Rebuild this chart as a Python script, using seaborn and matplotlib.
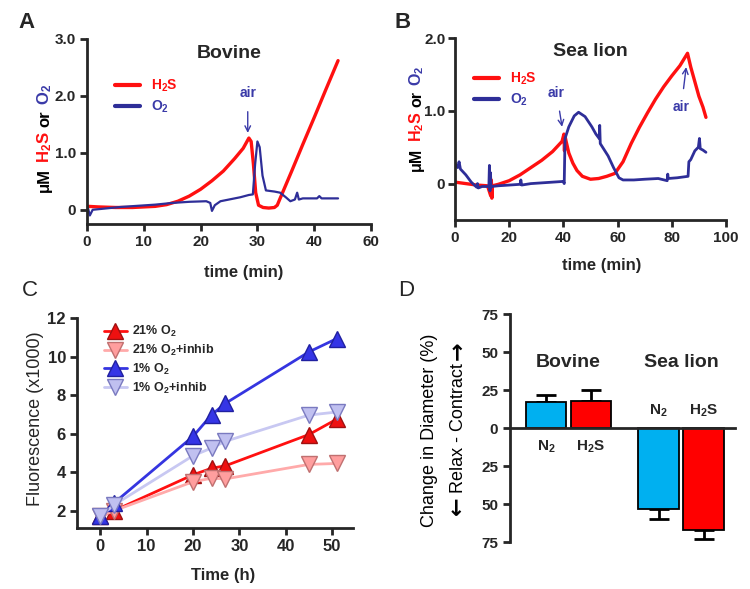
import numpy as np
import pandas as pd
import matplotlib
matplotlib.use("Agg")
import matplotlib.pyplot as plt
from matplotlib.transforms import IdentityTransform
import seaborn as sns

# ── Data ──────────────────────────────────────────────────────────────────────

# Panel A: Bovine, H2S and O2 traces (time in min, value in uM)
a_h2s_t = [0.2, 2, 5, 8, 10, 12, 14, 16, 18, 20, 22, 24, 26, 27.5, 28.5,
           28.9, 29.3, 29.7, 30.2, 31, 32, 33, 33.5, 34, 36, 38, 40, 42, 44.2]
a_h2s_v = [0.06, 0.05, 0.04, 0.04, 0.05, 0.06, 0.09, 0.15, 0.24, 0.36, 0.51, 0.68, 0.9, 1.08, 1.26,
           1.2, 0.8, 0.3, 0.08, 0.04, 0.03, 0.04, 0.08, 0.2, 0.67, 1.15, 1.62, 2.1, 2.62]

a_o2_t = [0.2, 0.5, 1, 3, 6, 9, 12, 15, 18, 21, 21.7, 22.0, 22.5, 23.5, 25, 27, 28.5, 29.2,
          29.6, 30.0, 30.4, 30.9, 31.5, 33, 34, 35, 35.8, 36.6, 37.0, 37.3, 38, 40.5, 40.9, 41.3, 44.2]
a_o2_v = [0.02, -0.1, 0.0, 0.02, 0.05, 0.07, 0.09, 0.12, 0.14, 0.15, 0.12, -0.02, 0.08, 0.15, 0.18, 0.22, 0.26, 0.27,
          0.8, 1.2, 1.1, 0.6, 0.34, 0.32, 0.3, 0.22, 0.15, 0.18, 0.3, 0.18, 0.2, 0.2, 0.24, 0.2, 0.2]

# Panel B: Sea lion
b_h2s_t = [0, 4, 8, 12, 13.2, 13.4, 13.6, 13.8, 16, 20, 24, 28, 32, 36, 39.5, 40.2, 40.4, 40.6,
           41, 42, 43.5, 45, 47, 50, 53, 56, 59, 62, 65, 68, 71, 74, 77, 80, 83, 85.8,
           87, 88.5, 90, 91.5, 92.6]
b_h2s_v = [0.02, 0.0, -0.02, -0.03, -0.17, 0.05, -0.2, -0.03, -0.01, 0.04, 0.12, 0.22, 0.32, 0.44, 0.58, 0.68, 0.45, 0.65,
           0.58, 0.42, 0.28, 0.18, 0.1, 0.06, 0.07, 0.1, 0.14, 0.3, 0.55, 0.77, 0.97, 1.16, 1.33, 1.48, 1.62, 1.79,
           1.6, 1.4, 1.2, 1.05, 0.91]

b_o2_t = [0, 1, 1.5, 2, 4, 6, 8, 8.3, 8.6, 10, 12.5, 12.7, 12.9, 13.1, 13.3, 13.5,
          16, 20, 24, 24.3, 24.6, 28, 32, 36, 40, 40.3, 40.6, 42, 44, 45.6, 48, 50.5,
          52, 53.2, 53.4, 53.6, 56.5, 58.5, 60.5, 62, 66, 70, 75, 78.3, 78.5, 78.7,
          82, 86, 86.3, 87, 88.5, 89.8, 90.2, 90.5, 91.5, 92.6]
b_o2_v = [0.28, 0.22, 0.3, 0.2, 0.12, 0.02, -0.05, 0.0, -0.06, -0.04, -0.04, 0.25, -0.1, 0.15, -0.05, -0.04,
          -0.03, -0.02, -0.01, 0.05, -0.02, 0.0, 0.01, 0.02, 0.03, 0.0, 0.62, 0.78, 0.93, 0.98, 0.92, 0.78,
          0.68, 0.62, 0.8, 0.55, 0.38, 0.22, 0.08, 0.05, 0.05, 0.06, 0.07, 0.04, 0.13, 0.07,
          0.08, 0.1, 0.3, 0.33, 0.45, 0.5, 0.62, 0.48, 0.46, 0.43]

# Panel C: fluorescence (x1000) vs time (h)
c_time = [0, 3, 20, 24, 27, 45, 51]
c_21 = [1.7, 2.0, 3.86, 4.2, 4.33, 5.95, 6.75]
c_21_inhib = [1.7, 2.0, 3.5, 3.68, 3.65, 4.4, 4.45]
c_1 = [1.7, 2.4, 5.85, 6.97, 7.57, 10.24, 10.93]
c_1_inhib = [1.7, 2.3, 4.85, 5.25, 5.6, 6.96, 7.12]

# Panel D: change in diameter (%)
d_species = ["Bovine", "Bovine", "Sea lion", "Sea lion"]
d_gas = ["N2", "H2S", "N2", "H2S"]
d_change = [17, 18, -53, -67]
d_err = [5, 7, 7, 6]

RED = "#ff1010"
NAVY = "#2e2e98"
NAVY_TXT = "#3a3aa8"

# ── Style ─────────────────────────────────────────────────────────────────────

sns.set_style("ticks")
plt.rcParams["font.family"] = ["Liberation Sans", "DejaVu Sans"]
plt.rcParams["font.weight"] = "bold"
plt.rcParams["mathtext.fontset"] = "custom"
plt.rcParams["mathtext.rm"] = "Liberation Sans:bold"
plt.rcParams["mathtext.it"] = "Liberation Sans:bold"
plt.rcParams["mathtext.bf"] = "Liberation Sans:bold"
plt.rcParams["mathtext.default"] = "rm"
plt.rcParams["axes.linewidth"] = 2

fig = plt.figure(figsize=(7.5, 5.89), dpi=100)
W, H = 750, 589


def px_axes(left, top, right, bottom):
    return fig.add_axes([left / W, 1 - bottom / H, (right - left) / W, (bottom - top) / H])


def style_ax(ax, size=11):
    sns.despine(ax=ax)
    ax.tick_params(direction="out", length=5, width=2, labelsize=size, pad=3)
    for lab in ax.get_xticklabels() + ax.get_yticklabels():
        lab.set_fontweight("bold")


def vertical_label(x_px, yc_px, pieces, gap=4):
    """Stack rotated text pieces bottom-to-top on a shared baseline (x_px)."""
    renderer = fig.canvas.get_renderer()
    objs, spans = [], []
    for s, c, size, weight, fam in pieces:
        t = fig.text(x_px, 0, s, color=c, fontsize=size, fontweight=weight, rotation=90,
                     rotation_mode="anchor", ha="left", va="baseline",
                     transform=IdentityTransform())
        if fam:
            t.set_family(fam)
        bb = t.get_window_extent(renderer)
        spans.append((bb.y0, bb.height))
        objs.append(t)
    total = sum(h for _, h in spans) + gap * (len(objs) - 1)
    y = (H - yc_px) - total / 2
    for o, (off, h) in zip(objs, spans):
        o.set_position((x_px, y - off))
        y += h + gap


def mixed_ylabel(x_px, yc_px, size=12):
    vertical_label(x_px, yc_px, [
        ("μM", "black", size, "bold", None),
        ("H$_2$S", RED, size, "bold", None),
        ("or", "black", size, "bold", None),
        ("O$_2$", NAVY_TXT, size, "bold", None),
    ], gap=5)


# ── Panel A ───────────────────────────────────────────────────────────────────

axA = px_axes(87, 39, 371, 224)
sns.lineplot(x=a_h2s_t, y=a_h2s_v, ax=axA, color=RED, lw=2.4, sort=False, estimator=None, label="H$_2$S")
sns.lineplot(x=a_o2_t, y=a_o2_v, ax=axA, color=NAVY, lw=1.6, sort=False, estimator=None, label="O$_2$")
axA.set_xlim(0, 50)
axA.set_ylim(-0.25, 3.0)
axA.set_xticks([0, 10, 20, 30, 40, 50])
axA.set_xticklabels(["0", "10", "20", "30", "40", "60"])
axA.set_yticks([0, 1, 2, 3])
axA.set_yticklabels(["0", "1.0", "2.0", "3.0"])
style_ax(axA)
axA.set_xlabel("time (min)", fontsize=12, fontweight="bold")
axA.xaxis.set_label_coords(0.55, -0.22)
axA.set_title("Bovine", fontsize=14, fontweight="bold", pad=0, y=0.9)
axA.legend(loc="upper left", bbox_to_anchor=(0.08, 0.82), frameon=False, handlelength=1.8,
           labelcolor=[RED, NAVY_TXT], fontsize=10, borderaxespad=0, labelspacing=0.3)
for line in axA.get_legend().get_lines():
    line.set_linewidth(3)
axA.annotate("air", xy=(28.3, 1.35), xytext=(28.3, 2.05), color=NAVY_TXT, fontsize=10,
             ha="center", va="center",
             arrowprops=dict(arrowstyle="->", color=NAVY_TXT, lw=1, shrinkA=6, shrinkB=0))
mixed_ylabel(49, 138)
fig.text(18, H - 23, "A", transform=IdentityTransform(), fontsize=16, fontweight="bold", va="center")

# ── Panel B ───────────────────────────────────────────────────────────────────

axB = px_axes(455, 38, 726, 220)
sns.lineplot(x=b_h2s_t, y=b_h2s_v, ax=axB, color=RED, lw=2.4, sort=False, estimator=None, label="H$_2$S")
sns.lineplot(x=b_o2_t, y=b_o2_v, ax=axB, color=NAVY, lw=2.0, sort=False, estimator=None, label="O$_2$")
axB.set_xlim(0, 100)
axB.set_ylim(-0.5, 2.0)
axB.set_xticks([0, 20, 40, 60, 80, 100])
axB.set_yticks([0, 1, 2])
axB.set_yticklabels(["0", "1.0", "2.0"])
style_ax(axB)
axB.tick_params(axis="y", pad=2)
axB.set_xlabel("time (min)", fontsize=12, fontweight="bold")
axB.xaxis.set_label_coords(0.54, -0.21)
axB.set_title("Sea lion", fontsize=14, fontweight="bold", pad=0, y=0.9)
axB.legend(loc="upper left", bbox_to_anchor=(0.05, 0.85), frameon=False, handlelength=1.8,
           labelcolor=[RED, NAVY_TXT], fontsize=10, borderaxespad=0, labelspacing=0.3)
for line in axB.get_legend().get_lines():
    line.set_linewidth(3)
axB.annotate("air", xy=(39.5, 0.78), xytext=(37.5, 1.25), color=NAVY_TXT, fontsize=10,
             ha="center", va="center",
             arrowprops=dict(arrowstyle="->", color=NAVY_TXT, lw=1, shrinkA=6, shrinkB=0))
axB.annotate("air", xy=(85.3, 1.6), xytext=(83.5, 1.05), color=NAVY_TXT, fontsize=10,
             ha="center", va="center",
             arrowprops=dict(arrowstyle="->", color=NAVY_TXT, lw=1, shrinkA=6, shrinkB=0))
mixed_ylabel(421, 118, size=11.5)
fig.text(395, H - 22, "B", transform=IdentityTransform(), fontsize=16, fontweight="bold", va="center")

# ── Panel C ───────────────────────────────────────────────────────────────────

axC = px_axes(77, 318, 353, 528)
series_c = [
    (c_21, "21% O$_2$", RED, "^", "#ee1010", "#a01010"),
    (c_21_inhib, "21% O$_2$+inhib", "#ffaaaa", "v", "#ff9e9e", "#c07070"),
    (c_1, "1% O$_2$", "#3535e0", "^", "#3535e6", "#2020a0"),
    (c_1_inhib, "1% O$_2$+inhib", "#c8c8f2", "v", "#c0c0f0", "#7a7ac0"),
]
for vals, lab, lc, mk, mf, me in series_c:
    sns.lineplot(x=c_time, y=vals, ax=axC, color=lc, lw=2, marker=mk, markersize=11,
                 markerfacecolor=mf, markeredgecolor=me, markeredgewidth=1, label=lab)
axC.set_xlim(-5, 54.5)
axC.set_ylim(1.1, 12)
axC.set_xticks([0, 10, 20, 30, 40, 50])
axC.set_yticks([2, 4, 6, 8, 10, 12])
style_ax(axC, size=12)
axC.set_xlabel("Time (h)", fontsize=12, fontweight="bold")
axC.xaxis.set_label_coords(0.53, -0.19)
axC.set_ylabel("Fluorescence (x1000)", fontsize=13, fontweight="normal")
axC.yaxis.set_label_coords(-0.12, 0.52)
axC.legend(loc="upper left", bbox_to_anchor=(0.08, 0.995), frameon=False, handlelength=1.8,
           fontsize=9, borderaxespad=0, labelspacing=0.3, handletextpad=0.4, markerscale=1.05)
fig.text(22, H - 290, "C", transform=IdentityTransform(), fontsize=16, fontweight="normal", va="center")

# ── Panel D ───────────────────────────────────────────────────────────────────

axD = px_axes(510, 314, 735, 542)
df_d = pd.DataFrame({"species": d_species, "gas": d_gas, "change": d_change, "err": d_err})
sns.barplot(data=df_d, x="species", y="change", hue="gas", ax=axD, errorbar=None,
            palette={"N2": "#00b0f0", "H2S": "#ff0000"}, saturation=1, width=0.8, gap=0.1,
            edgecolor="black", linewidth=1.3, legend=False, zorder=2)
# one-sided error bars away from zero
bars = sorted(axD.patches, key=lambda p: p.get_x())
order = sorted(range(len(df_d)), key=lambda i: (d_species[i], 0 if d_gas[i] == "N2" else 1))
for p, i in zip(bars, order):
    xc = p.get_x() + p.get_width() / 2
    v, e = d_change[i], d_err[i]
    yerr = [[0], [e]] if v > 0 else [[e], [0]]
    axD.errorbar(xc, v, yerr=yerr, color="black", lw=2, capsize=7, capthick=2, zorder=1)
    lab = "N$_2$" if d_gas[i] == "N2" else "H$_2$S"
    axD.text(xc, -12.5 if v > 0 else 11, lab, ha="center", va="center", fontsize=11, fontweight="bold")
axD.text(0, 43, "Bovine", ha="center", va="center", fontsize=14, fontweight="bold")
axD.text(1, 43, "Sea lion", ha="center", va="center", fontsize=14, fontweight="bold")
axD.set_xlim(-0.52, 1.48)
axD.set_ylim(-75, 75)
axD.set_yticks([-75, -50, -25, 0, 25, 50, 75])
axD.set_yticklabels(["75", "50", "25", "0", "25", "50", "75"])
sns.despine(ax=axD)
axD.spines["bottom"].set_position(("data", 0))
axD.tick_params(axis="y", direction="out", length=5, width=2, labelsize=11)
axD.tick_params(axis="x", length=0, labelbottom=False)
for lab in axD.get_yticklabels():
    lab.set_fontweight("bold")
axD.set_xlabel("")
axD.set_ylabel("")
vertical_label(434, 430, [("Change in Diameter (%)", "black", 13, "normal", None)])
vertical_label(463, 428, [
    ("\u2190", "black", 16, "bold", "DejaVu Sans"),
    ("Relax - Contract", "black", 13, "normal", None),
    ("\u2192", "black", 16, "bold", "DejaVu Sans"),
], gap=3)
fig.text(398, H - 290, "D", transform=IdentityTransform(), fontsize=16, fontweight="normal", va="center")

fig.savefig("out.png", dpi=100)
